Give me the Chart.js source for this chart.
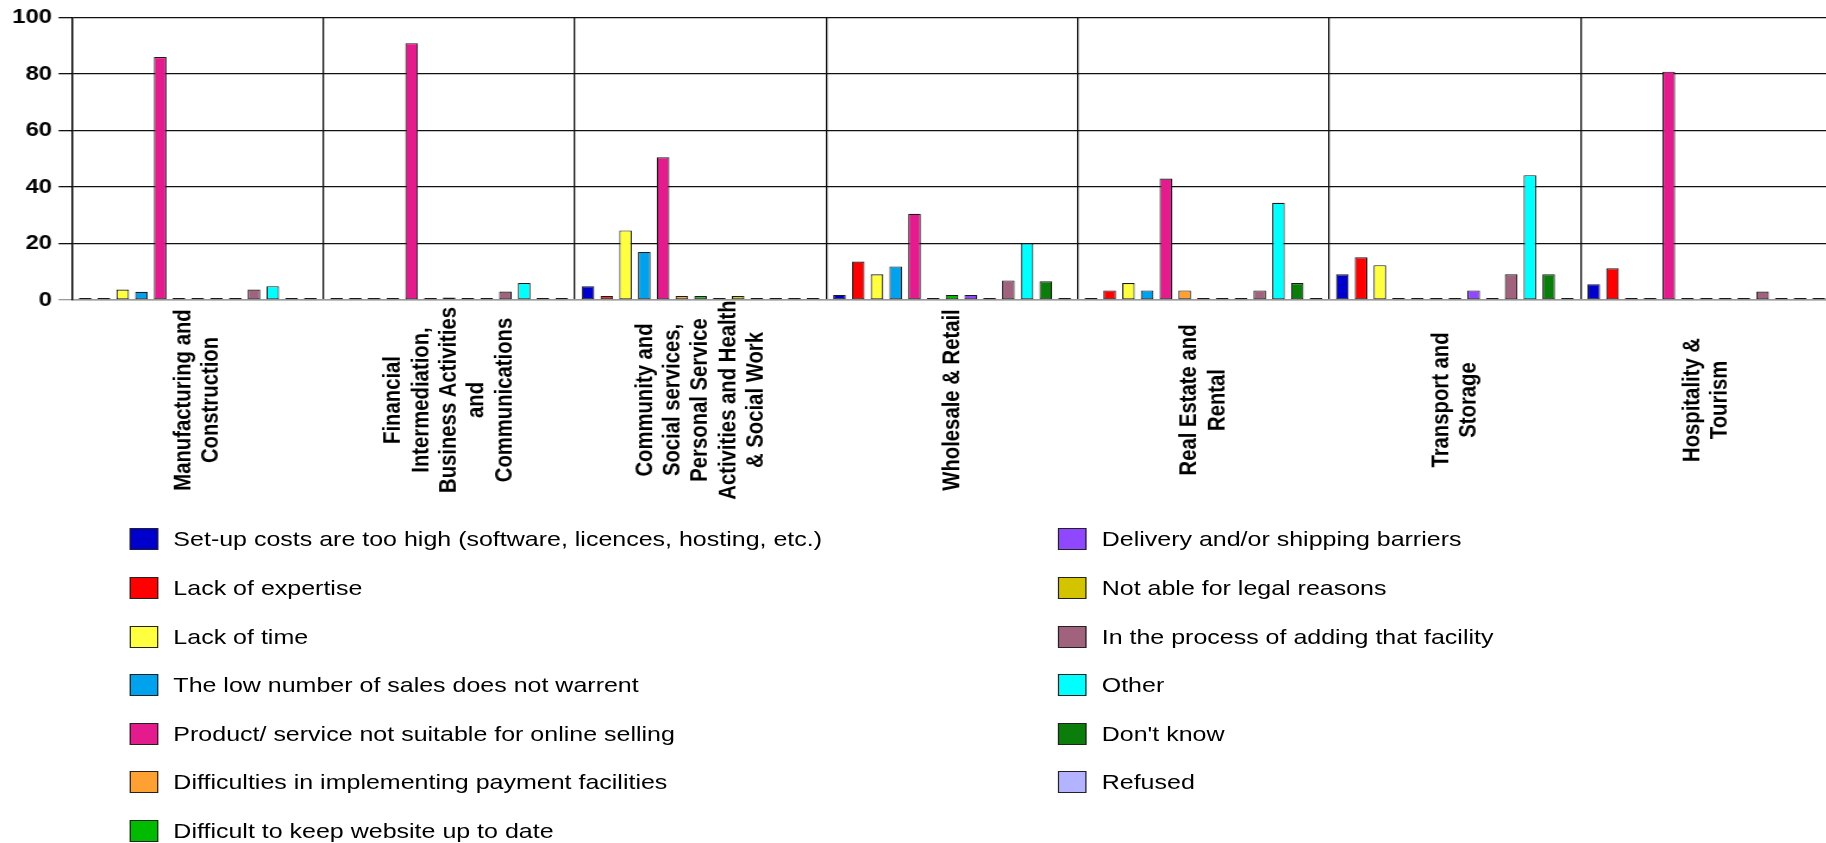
<!DOCTYPE html>
<html>
<head>
<meta charset="utf-8">
<script src="https://cdn.jsdelivr.net/npm/chart.js@4"></script>
<style>
  html, body { margin: 0; padding: 0; background: #fff; overflow: hidden; width: 1826px; height: 843px; }
  /* the original chart is stretched sideways, so draw narrow and widen the whole thing */
  #wrap { position: absolute; left: 0; top: 0; width: 1545px; height: 843px; transform: scaleX(1.19); transform-origin: 0 0; }
  #chart { position: absolute; left: 0; top: 0; }
  .item { position: absolute; height: 22px; font: 21px "Liberation Sans", Arial, sans-serif; line-height: 22px; color: #000; white-space: nowrap; }
  .sw { position: absolute; left: 0; top: 0; width: 24px; height: 22px; box-sizing: border-box; border: 1px solid #222; }
  .tx { position: absolute; left: 36.5px; top: 0; }
</style>
</head>
<body>
<div id="wrap">
  <canvas id="chart" width="1545" height="520"></canvas>
  <div id="legend"></div>
</div>
<script>
const categories = [
  ['Manufacturing and', 'Construction'],
  ['Financial', 'Intermediation,', 'Business Activities', 'and', 'Communications'],
  ['Community and', 'Social services,', 'Personal Service', 'Activities and Health', '& Social Work'],
  ['Wholesale & Retail'],
  ['Real Estate and', 'Rental'],
  ['Transport and', 'Storage'],
  ['Hospitality &', 'Tourism']
];

const seriesNames = [
  'Set-up costs are too high (software, licences, hosting, etc.)',
  'Lack of expertise',
  'Lack of time',
  'The low number of sales does not warrent',
  'Product/ service not suitable for online selling',
  'Difficulties in implementing payment facilities',
  'Difficult to keep website up to date',
  'Delivery and/or shipping barriers',
  'Not able for legal reasons',
  'In the process of adding that facility',
  'Other',
  "Don't know",
  'Refused'
];

const seriesColors = [
  '#0000cc', '#ff0000', '#ffff40', '#00a2ed', '#e31b8c', '#ffa033', '#00bb00',
  '#8f47ff', '#d4c400', '#a0627d', '#00ffff', '#0a7d0a', '#b3b3ff'
];

const setupCosts   = [0, 0, 4.9, 1.8, 0, 9.1, 5.6];
const lackExpert   = [0, 0, 1.4, 13.6, 3.4, 15.1, 11.2];
const lackTime     = [3.7, 0, 24.6, 9.1, 6.0, 12.3, 0];
const lowSales     = [2.9, 0, 17.0, 11.9, 3.4, 0, 0];
const notSuitable  = [86.0, 90.9, 50.5, 30.5, 43.0, 0, 80.8];
const payment      = [0, 0, 1.4, 0, 3.4, 0, 0];
const website      = [0, 0.9, 1.4, 1.8, 0, 0, 0];
const delivery     = [0, 0, 0, 1.8, 0, 3.4, 0];
const legal        = [0, 0, 1.4, 0, 0, 0, 0];
const inProcess    = [3.7, 3.0, 0, 6.9, 3.4, 9.1, 3.0];
const other        = [4.9, 6.0, 0, 20.0, 34.4, 44.2, 0];
const dontKnow     = [0, 0, 0, 6.6, 6.0, 9.1, 0];
const refused      = [0, 0, 0, 0, 0, 0, 0];

const seriesValues = [setupCosts, lackExpert, lackTime, lowSales, notSuitable, payment, website,
  delivery, legal, inProcess, other, dontKnow, refused];

const yTicks = [0, 20, 40, 60, 80, 100];

// rotated, centred category names under each group
const categoryLabels = {
  id: 'categoryLabels',
  afterDraw(chart) {
    const { ctx, scales: { x } } = chart;
    ctx.save();
    ctx.font = 'bold 20.3px "Liberation Sans", Arial, sans-serif';
    ctx.fillStyle = '#000';
    ctx.textAlign = 'center';
    ctx.textBaseline = 'middle';
    chart.data.labels.forEach((lines, i) => {
      const px = x.getPixelForTick(i);
      ctx.save();
      ctx.translate(px, 400);
      ctx.rotate(-Math.PI / 2);
      lines.forEach((t, j) => ctx.fillText(t, 0, (j - (lines.length - 1) / 2) * 23.3));
      ctx.restore();
    });
    ctx.restore();
  }
};

const chart = new Chart(document.getElementById('chart'), {
  type: 'bar',
  data: {
    labels: categories,
    datasets: seriesNames.map((name, i) => ({
      label: name,
      data: seriesValues[i],
      backgroundColor: seriesColors[i],
      borderColor: '#1a1a1a',
      borderWidth: 1.1,
      borderSkipped: false,
      minBarLength: 2,
      categoryPercentage: 0.97,
      barPercentage: 0.672
    }))
  },
  options: {
    responsive: false,
    animation: false,
    layout: { padding: { left: 0, top: 15, right: 5.5, bottom: 220 } },
    plugins: { legend: { display: false }, tooltip: { enabled: false } },
    scales: {
      x: {
        offset: true,
        grid: { offset: true, color: '#111', lineWidth: 1.3, drawTicks: false },
        border: { color: '#999', width: 1.5 },
        ticks: { display: false },
        afterFit: (s) => { s.height = 0; }
      },
      y: {
        min: 0,
        max: 100,
        afterBuildTicks: (s) => { s.ticks = yTicks.map(v => ({ value: v })); },
        grid: {
          color: (c) => (c.tick && c.tick.value === 0 ? '#999' : '#111'),
          lineWidth: 1.3,
          tickLength: 11.3
        },
        border: { color: '#000', width: 1.3 },
        ticks: {
          padding: 5.5,
          color: '#000',
          font: { family: '"Liberation Sans", Arial, sans-serif', size: 20, weight: 'bold' }
        },
        afterFit: (s) => { s.width = 60.5; }
      }
    }
  },
  plugins: [categoryLabels]
});

// two-column legend, filled column by column
const legendBox = document.getElementById('legend');
chart.data.datasets.forEach((ds, i) => {
  const col = i < 7 ? 0 : 1;
  const row = col === 0 ? i : i - 7;
  const item = document.createElement('div');
  item.className = 'item';
  item.style.left = (col === 0 ? 109.2 : 889.3) + 'px';
  item.style.top = (528.3 + row * 48.6) + 'px';
  const sw = document.createElement('span');
  sw.className = 'sw';
  sw.style.background = ds.backgroundColor;
  const tx = document.createElement('span');
  tx.className = 'tx';
  tx.textContent = ds.label;
  item.appendChild(sw);
  item.appendChild(tx);
  legendBox.appendChild(item);
});
</script>
</body>
</html>
